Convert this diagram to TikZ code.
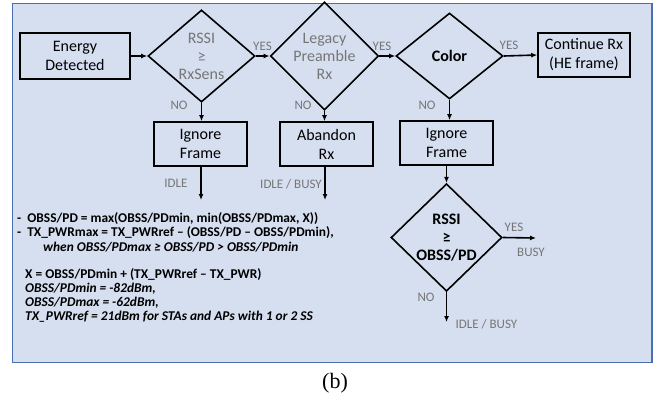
\documentclass[tikz,border=0pt]{standalone}
\usepackage{fontspec}
\setmainfont{Carlito}
\newfontfamily\capfont{Liberation Serif}
\usetikzlibrary{shapes.geometric,arrows.meta}
\definecolor{panelfill}{RGB}{214,223,240}
\definecolor{panelline}{RGB}{74,111,176}
\definecolor{labelgray}{RGB}{118,118,118}
\tikzset{
  proc/.style={draw=black,line width=1.6pt,minimum width=93pt,minimum height=44pt,
    inner sep=0pt,align=center,font=\fontsize{16}{19}\selectfont},
  decide/.style={draw=black,line width=1.6pt,diamond,inner sep=0pt,align=center,
    minimum width=107pt,minimum height=86pt,font=\fontsize{16}{19}\selectfont},
  flow/.style={line width=1.6pt,-{Latex[length=6pt,width=5pt]}},
  lbl/.style={text=labelgray,font=\fontsize{13}{15}\selectfont,inner sep=0pt},
  note/.style={anchor=west,inner sep=0pt,font=\fontsize{13.4}{15}\bfseries\selectfont},
}
\begin{document}
\begin{tikzpicture}[x=1pt,y=-1pt]
\useasboundingbox (0,0) rectangle (655,399);
% background panel
\draw[fill=panelfill,draw=panelline,line width=1.2pt] (12.5,3.5) rectangle (652,362.5);

% top row
\node[proc,minimum width=110pt,minimum height=46pt] (energy) at (75,56) {Energy\\Detected};
\node[decide,text=labelgray] (rssi) at (201.5,56) {RSSI\\[-1pt]≥\\[-1pt]RxSens};
\node[decide,text=labelgray] (legacy) at (324.5,56) {Legacy\\[-1pt]Preamble\\[-1pt]Rx};
\node[decide,font=\fontsize{16}{19}\bfseries\selectfont] (color) at (449.5,56) {Color};
\node[proc,minimum width=92pt] (cont) at (584,55) {Continue Rx\\(HE frame)};

% second row
\node[proc] (ign1) at (200.5,144) {Ignore\\Frame};
\node[proc] (aband) at (326.5,144) {Abandon\\Rx};
\node[proc] (ign2) at (446.5,143) {Ignore\\Frame};

% OBSS/PD decision
\node[decide,minimum width=111pt,minimum height=101pt,
  font=\fontsize{16}{19}\bfseries\selectfont] (obss) at (446.5,237.5) {RSSI\\[-1pt]≥\\[-1pt]OBSS/PD};

% loose arrow ends
\coordinate (e1) at (201,200);
\coordinate (e2) at (325,200);
\coordinate (e3) at (536,238);
\coordinate (e4) at (446.5,322);

% connectors
\draw[flow] (energy) -- (rssi.west);
\draw[flow] (rssi.east) -- (legacy.west);
\draw[flow] (legacy.east) -- (color.west);
\draw[flow] (color.east) -- (cont.west);
\draw[flow] (rssi.south) -- (ign1.north -| rssi.south);
\draw[flow] (legacy.south) -- (aband.north -| legacy.south);
\draw[flow] (color.south) -- (ign2.north -| color.south);
\draw[flow] (ign1.south -| e1) -- (e1);
\draw[flow] (aband.south -| e2) -- (e2);
\draw[flow] (ign2.south) -- (obss.north);
\draw[flow] (obss.east) -- (e3);
\draw[flow] (obss.south) -- (e4);

% branch labels
\node[lbl] (y1) at (262.5,46) {YES};
\node[lbl] (y2) at (382,46) {YES};
\node[lbl] (y3) at (509,45) {YES};
\node[lbl] (n1) at (179,105) {NO};
\node[lbl] (n2) at (303,105) {NO};
\node[lbl] (n3) at (427,105) {NO};
\node[lbl] (i1) at (176,183) {IDLE};
\node[lbl,anchor=east] (i2) at (322,184) {IDLE / BUSY};
\node[lbl] (y4) at (514,227) {YES};
\node[lbl] (b4) at (531,252) {BUSY};
\node[lbl] (n4) at (426,297) {NO};
\node[lbl,anchor=west] (i4) at (455.5,324) {IDLE / BUSY};

% formulas
\node[note] (f1) at (17,219) {-\ \ OBSS/PD = max(OBSS/PDmin, min(OBSS/PDmax, X))};
\node[note] (f2) at (17,233) {-\ \ TX\_PWRmax = TX\_PWRref – (OBSS/PD – OBSS/PDmin),};
\node[note] (f3) at (43,247) {\itshape when OBSS/PDmax ≥ OBSS/PD > OBSS/PDmin};
\node[note] (f4) at (25,275) {X = OBSS/PDmin + (TX\_PWRref – TX\_PWR)};
\node[note] (f5) at (25,289) {\itshape OBSS/PDmin = -82dBm,};
\node[note] (f6) at (25,303) {\itshape OBSS/PDmax = -62dBm,};
\node[note] (f7) at (25,317) {\itshape TX\_PWRref = 21dBm for STAs and APs with 1 or 2 SS};

% caption
\node[font=\capfont\fontsize{22}{24}\selectfont,inner sep=0pt] (cap) at (335,383) {(b)};
\end{tikzpicture}
\end{document}
